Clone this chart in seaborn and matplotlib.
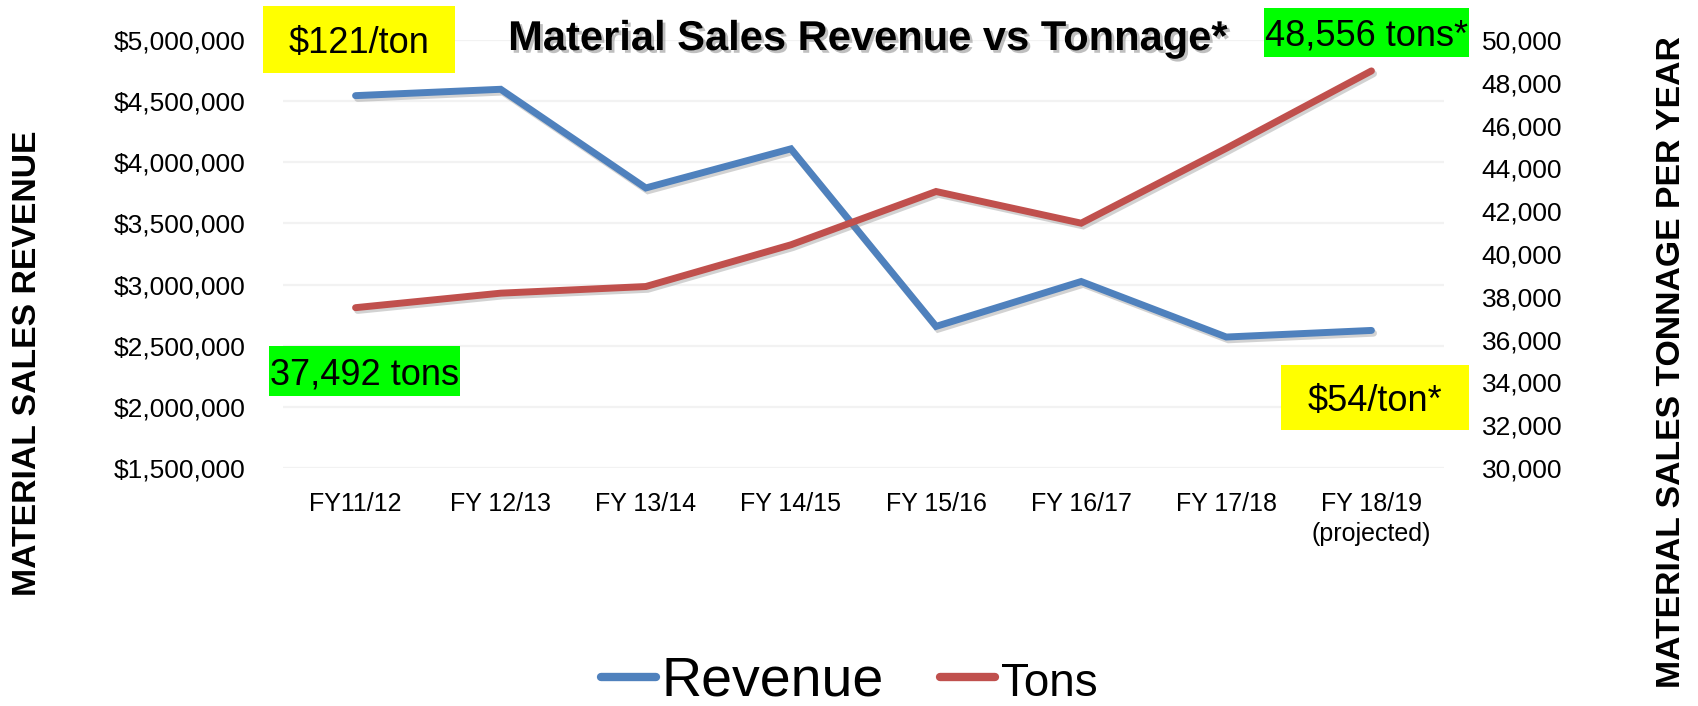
import matplotlib
matplotlib.use("Agg")
import matplotlib.pyplot as plt
import matplotlib.patheffects as pe
from matplotlib.lines import Line2D
from matplotlib.patches import Rectangle
from matplotlib.ticker import StrMethodFormatter
import pandas as pd
import seaborn as sns

# data
periods = ['FY11/12', 'FY 12/13', 'FY 13/14', 'FY 14/15', 'FY 15/16',
           'FY 16/17', 'FY 17/18', 'FY 18/19\n(projected)']
revenue = [4545000, 4597000, 3790000, 4110000, 2658000, 3025000, 2571000, 2625000]
tons = [37492, 38170, 38480, 40430, 42920, 41440, 44940, 48556]

rev_ticks = [1500000, 2000000, 2500000, 3000000, 3500000, 4000000, 4500000, 5000000]
ton_ticks = [30000, 32000, 34000, 36000, 38000, 40000, 42000, 44000, 46000, 48000, 50000]

BLUE = '#4F81BD'
RED = '#C0504D'
W, H = 1698, 706

sns.set_theme(style='white')
plt.rcParams['font.family'] = ['Liberation Sans', 'DejaVu Sans']
plt.rcParams['text.color'] = 'black'

df = pd.DataFrame({'period': periods, 'revenue': revenue, 'tons': tons})

fig = plt.figure(figsize=(W / 100, H / 100), dpi=100)
ax = fig.add_axes([283 / W, 1 - 468 / H, 1161 / W, 428 / H])
ax2 = ax.twinx()

shadow = [pe.SimpleLineShadow(offset=(1.5, -2), shadow_color='gray', alpha=0.35), pe.Normal()]

sns.lineplot(data=df, x='period', y='revenue', ax=ax, sort=False, color=BLUE,
             linewidth=5, solid_capstyle='round', solid_joinstyle='miter',
             path_effects=shadow, legend=False)
sns.lineplot(data=df, x='period', y='tons', ax=ax2, sort=False, color=RED,
             linewidth=5, solid_capstyle='round', solid_joinstyle='miter',
             path_effects=shadow, legend=False)

ax.set_xlim(-0.5, len(periods) - 0.5)
ax.set_ylim(rev_ticks[0], rev_ticks[-1])
ax2.set_ylim(ton_ticks[0], ton_ticks[-1])
ax.set_yticks(rev_ticks)
ax2.set_yticks(ton_ticks)
ax.yaxis.set_major_formatter(StrMethodFormatter('${x:,.0f}'))
ax2.yaxis.set_major_formatter(StrMethodFormatter('{x:,.0f}'))
ax.set_xticks(range(len(periods)))
ax.set_xticklabels(periods)
for lbl in ax.get_xticklabels():
    lbl.set_linespacing(1.35)

ax.set_xlabel('')
ax.set_ylabel('')
ax2.set_ylabel('')
ax.grid(axis='y', color='#F2F2F2', linewidth=1.6)
ax.grid(axis='x', visible=False)
ax2.grid(False)
for a in (ax, ax2):
    for s in a.spines.values():
        s.set_visible(False)
ax.tick_params(axis='y', labelsize=19, pad=27, length=0, labelcolor='black')
ax.tick_params(axis='x', labelsize=18, pad=17, length=0, labelcolor='black')
ax2.tick_params(axis='y', labelsize=19, pad=27, length=0, labelcolor='black')

# title with drop shadow
fig.text(868 / W, 1 - 50 / H, 'Material Sales Revenue vs Tonnage*', ha='center',
         va='baseline', fontsize=30, fontweight='bold', color='black',
         path_effects=[pe.withSimplePatchShadow(offset=(2, -2), shadow_rgbFace='gray', alpha=0.5)])

# axis titles
fig.text(28 / W, 1 - 363 / H, 'MATERIAL SALES REVENUE', rotation=90, ha='center',
         va='center', fontsize=24.3, fontweight='bold', color='black')
fig.text(1671 / W, 1 - 362 / H, 'MATERIAL SALES TONNAGE PER YEAR', rotation=90,
         ha='center', va='center', fontsize=24.3, fontweight='bold', color='black')


def note_box(x0, y0, x1, y1, txt, color):
    fig.add_artist(Rectangle((x0 / W, 1 - y1 / H), (x1 - x0) / W, (y1 - y0) / H,
                             transform=fig.transFigure, facecolor=color,
                             edgecolor='none', zorder=3))
    fig.text((x0 + x1) / 2 / W, 1 - (y0 + y1) / 2 / H, txt, ha='center',
             va='center_baseline', fontsize=26, color='black', zorder=4)


note_box(263, 6, 455, 73, '$121/ton', '#FFFF00')
note_box(1264, 8, 1469, 57, '48,556 tons*', '#00FF00')
note_box(269, 346, 460, 396, '37,492 tons', '#00FF00')
note_box(1281, 365, 1469, 430, '$54/ton*', '#FFFF00')

handles = [Line2D([], [], color=BLUE, linewidth=6, solid_capstyle='round'),
           Line2D([], [], color=RED, linewidth=6, solid_capstyle='round')]
leg = fig.legend(handles, ['Revenue', 'Tons'], loc='center',
                 bbox_to_anchor=(849 / W, 1 - 682 / H), ncol=2, frameon=False,
                 fontsize=40, handlelength=1.0, handletextpad=0.1,
                 columnspacing=1.0, borderpad=0, borderaxespad=0)
leg.get_texts()[1].set_fontsize(33)
for t in leg.get_texts():
    t.set_color('black')

fig.savefig('out.png', dpi=100)
